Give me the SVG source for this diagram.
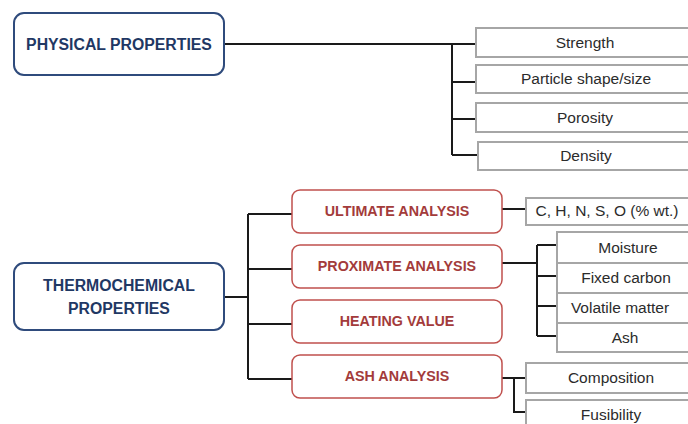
<svg xmlns="http://www.w3.org/2000/svg" width="688" height="424" viewBox="0 0 688 424">
  <style>
    .main rect { fill: #fff; stroke: #2f4b7c; stroke-width: 2; }
    .main text { font-family: "Liberation Sans", Arial, sans-serif; font-weight: bold; font-size: 15.8px; fill: #1f3864; text-anchor: middle; }
    .sub rect { fill: #fff; stroke: #c0504d; stroke-width: 1.5; }
    .sub text { font-family: "Liberation Sans", Arial, sans-serif; font-weight: bold; font-size: 14.3px; fill: #a33b3b; text-anchor: middle; }
    .leaf rect { fill: #fff; stroke: #a6a6a6; stroke-width: 2; }
    .leaf text { font-family: "Liberation Sans", Arial, sans-serif; font-size: 15.5px; fill: #2b2b2b; text-anchor: middle; }
    .links path { fill: none; stroke: #1a1a1a; stroke-width: 2; }
  </style>
  <rect width="688" height="424" fill="#fff"/>

  <!-- connectors -->
  <g class="links" id="connectors">
    <path d="M224 44 H477 M452 44 V155 M452 82 H477 M452 119 H477 M452 155 H479"/>
    <path d="M224 297 H248 M248 214 V379 M248 214 H292 M248 269 H292 M248 324 H292 M248 379 H292"/>
    <path d="M502 209 H527"/>
    <path d="M502 263 H537 M537 245 V336 M537 245 H557 M537 276 H557 M537 306 H557 M537 336 H557"/>
    <path d="M502 378 H527 M514 378 V412 H527"/>
  </g>

  <!-- physical properties -->
  <g class="main" id="physical">
    <rect x="14" y="13" width="210" height="62" rx="10"/>
    <text x="119" y="50">PHYSICAL PROPERTIES</text>
  </g>
  <g class="leaf" id="strength">
    <rect x="476" y="28" width="218" height="29"/>
    <text x="585" y="48">Strength</text>
  </g>
  <g class="leaf" id="particle">
    <rect x="476" y="65" width="218" height="28"/>
    <text x="586" y="84">Particle shape/size</text>
  </g>
  <g class="leaf" id="porosity">
    <rect x="476" y="103" width="218" height="29"/>
    <text x="585" y="123">Porosity</text>
  </g>
  <g class="leaf" id="density">
    <rect x="478" y="142" width="216" height="28"/>
    <text x="586" y="161">Density</text>
  </g>

  <!-- thermochemical properties -->
  <g class="main" id="thermochemical">
    <rect x="14" y="263" width="210" height="67" rx="10"/>
    <text x="119" y="291">THERMOCHEMICAL</text>
    <text x="119" y="314">PROPERTIES</text>
  </g>
  <g class="sub" id="ultimate">
    <rect x="292" y="190" width="210" height="43" rx="8"/>
    <text x="397" y="216">ULTIMATE ANALYSIS</text>
  </g>
  <g class="sub" id="proximate">
    <rect x="292" y="245" width="210" height="43" rx="8"/>
    <text x="397" y="271">PROXIMATE ANALYSIS</text>
  </g>
  <g class="sub" id="heating">
    <rect x="292" y="300" width="210" height="43" rx="8"/>
    <text x="397" y="326">HEATING VALUE</text>
  </g>
  <g class="sub" id="ash-analysis">
    <rect x="292" y="355" width="210" height="43" rx="8"/>
    <text x="397" y="381">ASH ANALYSIS</text>
  </g>

  <g class="leaf" id="elements">
    <rect x="526" y="198" width="168" height="27"/>
    <text x="607" y="216">C, H, N, S, O (% wt.)</text>
  </g>
  <g class="leaf" id="moisture">
    <rect x="557" y="232" width="137" height="31"/>
    <text x="628" y="253">Moisture</text>
  </g>
  <g class="leaf" id="fixed-carbon">
    <rect x="557" y="263" width="137" height="30"/>
    <text x="626" y="283">Fixed carbon</text>
  </g>
  <g class="leaf" id="volatile">
    <rect x="557" y="293" width="137" height="30"/>
    <text x="620" y="313">Volatile matter</text>
  </g>
  <g class="leaf" id="ash">
    <rect x="557" y="323" width="137" height="29"/>
    <text x="625" y="343">Ash</text>
  </g>
  <g class="leaf" id="composition">
    <rect x="526" y="363" width="168" height="30"/>
    <text x="611" y="383">Composition</text>
  </g>
  <g class="leaf" id="fusibility">
    <rect x="526" y="400" width="168" height="30"/>
    <text x="611" y="420">Fusibility</text>
  </g>
</svg>
